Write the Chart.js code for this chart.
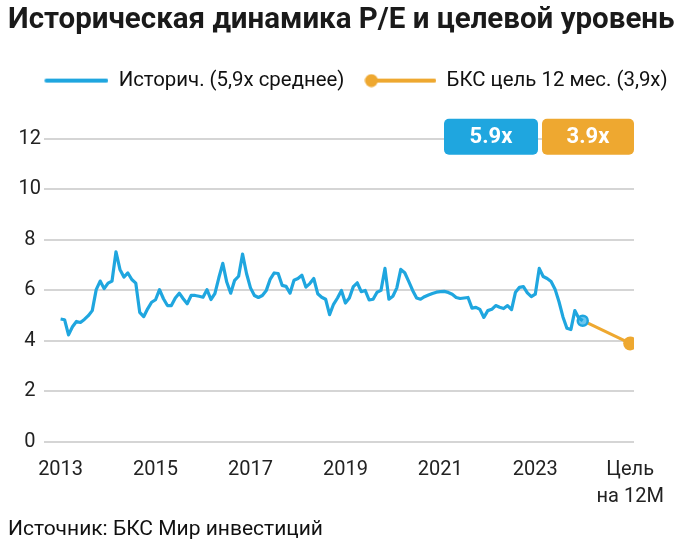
<!DOCTYPE html>
<html lang="ru">
<head>
<meta charset="utf-8">
<title>P/E</title>
<script src="https://cdn.jsdelivr.net/npm/chart.js@4.4.1/dist/chart.umd.min.js"></script>
<style>
html,body{margin:0;padding:0;background:#fff;}
#wrap{width:700px;height:552px;position:relative;}
</style>
</head>
<body>
<div id="wrap"><canvas id="chart"></canvas></div>
<script>
const titleText = "Историческая динамика P/E и целевой уровень";
const sourceText = "Источник: БКС Мир инвестиций";
const legendLabels = ["Историч. (5,9x среднее)", "БКС цель 12 мес. (3,9x)"];
const badgeLabels = ["5.9x", "3.9x"];

// monthly P/E, Jan 2013 .. Jan 2024
const startYear = 2013;
const histValues = [
    4.87, 4.84, 4.24, 4.56, 4.77, 4.73, 4.85, 5.0, 5.2, 6.03, 6.37, 6.07,
    6.29, 6.37, 7.53, 6.83, 6.53, 6.69, 6.43, 6.29, 5.13, 4.96, 5.27, 5.53,
    5.63, 6.03, 5.67, 5.4, 5.4, 5.7, 5.89, 5.67, 5.47, 5.8, 5.8, 5.77,
    5.73, 6.03, 5.64, 5.87, 6.5, 7.07, 6.33, 5.89, 6.4, 6.56, 7.44, 6.67,
    6.1, 5.8, 5.72, 5.8, 6.0, 6.45, 6.69, 6.67, 6.2, 6.16, 5.89, 6.4,
    6.47, 6.6, 6.13, 6.27, 6.47, 5.87, 5.73, 5.65, 5.04, 5.45, 5.7, 6.0,
    5.5, 5.7, 6.15, 6.3, 5.95, 6.0, 5.62, 5.65, 5.93, 6.0, 6.87, 5.65,
    5.77, 6.1, 6.83, 6.7, 6.36, 6.0, 5.7, 5.65, 5.75, 5.82, 5.88, 5.93,
    5.95, 5.96, 5.92, 5.85, 5.72, 5.68, 5.7, 5.72, 5.3, 5.33, 5.25, 4.93,
    5.2, 5.25, 5.4, 5.33, 5.28, 5.4, 5.24, 5.93, 6.12, 6.15, 5.9, 5.75,
    5.85, 6.87, 6.55, 6.47, 6.35, 6.05, 5.55, 4.95, 4.5, 4.45, 5.2, 4.9,
    4.8
];
const targetYear = 2025;
const targetValue = 3.9;

const tickYears = [2013, 2015, 2017, 2019, 2021, 2023, 2025];
const tickLabels = ["2013", "2015", "2017", "2019", "2021", "2023", ["Цель", "на 12M"]];

const BLUE = "#1fa6df";
const ORANGE = "#eea830";
const FONT = "Roboto";

const histPoints = histValues.map((v, i) => ({x: startYear + i / 12, y: v}));
const lastPoint = histPoints[histPoints.length - 1];
const targetPoints = [{x: lastPoint.x, y: lastPoint.y}, {x: targetYear, y: targetValue}];

function legendIcon(withDot, color){
    const c = document.createElement("canvas");
    c.width = 72;
    c.height = 14;
    const g = c.getContext("2d");
    g.strokeStyle = color;
    g.lineWidth = 4;
    g.lineCap = "round";
    g.beginPath();
    g.moveTo(withDot ? 7 : 10, 7);
    g.lineTo(70, 7);
    g.stroke();
    if(withDot){
        g.fillStyle = color;
        g.beginPath();
        g.arc(7, 7, 6.5, 0, Math.PI * 2);
        g.fill();
    }
    return c;
}
const icons = [legendIcon(false, BLUE), legendIcon(true, ORANGE)];

const legendSpace = {
    id: "legendSpace",
    beforeInit(chart){
        const fit = chart.legend.fit;
        chart.legend.fit = function(){
            fit.bind(chart.legend)();
            this.height += 38;
        };
    }
};

const badges = {
    id: "badges",
    afterDatasetsDraw(chart){
        const {ctx, chartArea} = chart;
        const widths = [94, 92];
        const colors = [BLUE, ORANGE];
        const h = 36;
        const top = chartArea.top - 20;
        let x = chartArea.right - widths[0] - 4 - widths[1];
        ctx.save();
        badgeLabels.forEach((label, i) => {
            ctx.fillStyle = colors[i];
            ctx.beginPath();
            if(ctx.roundRect){
                ctx.roundRect(x, top, widths[i], h, 5);
            }else{
                ctx.rect(x, top, widths[i], h);
            }
            ctx.fill();
            ctx.fillStyle = "#fff";
            ctx.font = "bold 22px " + FONT;
            ctx.textAlign = "center";
            ctx.textBaseline = "middle";
            ctx.fillText(label, x + widths[i] / 2, top + h / 2 + 1);
            x += widths[i] + 4;
        });
        ctx.restore();
    }
};

const sourceNote = {
    id: "sourceNote",
    afterDraw(chart){
        const ctx = chart.ctx;
        ctx.save();
        ctx.font = "21px " + FONT;
        ctx.fillStyle = "#111";
        ctx.textAlign = "left";
        ctx.textBaseline = "middle";
        ctx.fillText(sourceText, 8, chart.height - 22);
        ctx.restore();
    }
};

new Chart(document.getElementById("chart"), {
    type: "line",
    data: {
        datasets: [
            {
                label: legendLabels[0],
                data: histPoints,
                borderColor: BLUE,
                borderWidth: 3.2,
                pointRadius: 0,
                tension: 0,
                borderJoinStyle: "round"
            },
            {
                label: legendLabels[1],
                data: targetPoints,
                borderColor: ORANGE,
                borderWidth: 3,
                pointRadius: [5, 7],
                pointBackgroundColor: ["#6cc6ee", ORANGE],
                pointBorderColor: [BLUE, ORANGE],
                pointBorderWidth: [2.5, 0]
            }
        ]
    },
    options: {
        responsive: true,
        maintainAspectRatio: false,
        animation: false,
        layout: {padding: {left: 8, right: 4, top: 0, bottom: 28}},
        scales: {
            x: {
                type: "linear",
                min: 2012.65,
                max: 2025.08,
                grid: {display: false, drawTicks: false},
                border: {display: false},
                afterBuildTicks(s){
                    s.ticks = tickYears.map(v => ({value: v}));
                },
                ticks: {
                    autoSkip: false,
                    maxRotation: 0,
                    padding: 14,
                    color: "#222",
                    font: {family: FONT, size: 20, lineHeight: 1.35},
                    callback(v){
                        const i = tickYears.indexOf(v);
                        return i < 0 ? "" : tickLabels[i];
                    }
                }
            },
            y: {
                min: 0,
                max: 12,
                ticks: {
                    stepSize: 2,
                    padding: 3,
                    crossAlign: "center",
                    color: "#222",
                    font: {family: FONT, size: 20}
                },
                grid: {color: "#d5d5d5", lineWidth: 2, drawTicks: false},
                border: {display: false},
                afterFit(s){
                    s.width = 36;
                }
            },
            yRight: {
                position: "right",
                grid: {display: false, drawTicks: false},
                ticks: {display: false},
                border: {display: false},
                afterFit(s){
                    s.width = 62;
                }
            }
        },
        plugins: {
            tooltip: {enabled: false},
            title: {
                display: true,
                text: titleText,
                align: "start",
                color: "#1a1a1a",
                font: {family: FONT, size: 29.5, weight: "bold", lineHeight: 1.2},
                padding: {top: 3, bottom: 12}
            },
            legend: {
                align: "center",
                labels: {
                    usePointStyle: true,
                    pointStyleWidth: 72,
                    padding: 20,
                    color: "#111",
                    font: {family: FONT, size: 20.4},
                    generateLabels: () => legendLabels.map((t, i) => ({
                        text: t,
                        pointStyle: icons[i],
                        fillStyle: "transparent",
                        strokeStyle: "transparent",
                        lineWidth: 0,
                        hidden: false,
                        datasetIndex: i,
                        fontColor: "#111"
                    }))
                }
            }
        }
    },
    plugins: [legendSpace, badges, sourceNote]
});
</script>
</body>
</html>
